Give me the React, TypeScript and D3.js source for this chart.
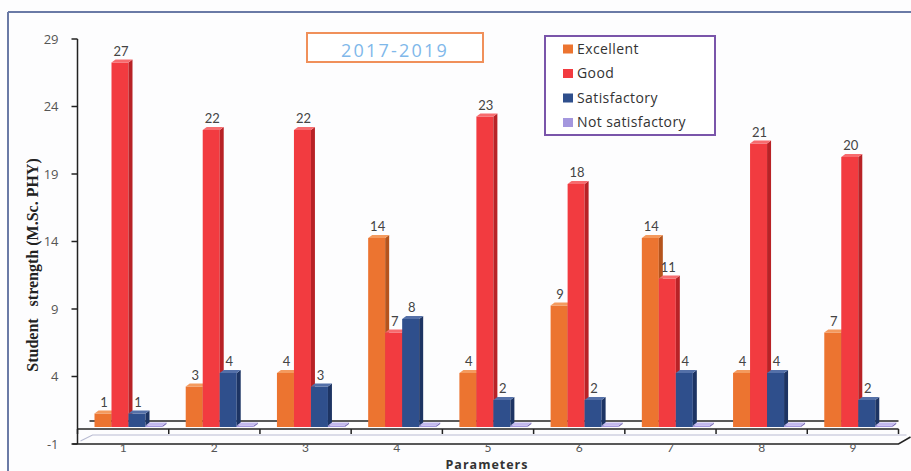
import React from "react";
import * as d3 from "d3";

const categories = ["1", "2", "3", "4", "5", "6", "7", "8", "9"];
const seriesNames = ["Excellent", "Good", "Satisfactory", "Not satisfactory"];
const excellent = [1, 3, 4, 14, 4, 9, 14, 4, 7];
const good = [27, 22, 22, 7, 23, 18, 11, 21, 20];
const satisfactory = [1, 4, 3, 8, 2, 2, 4, 4, 2];
const notSatisfactory = [0, 0, 0, 0, 0, 0, 0, 0, 0];
const yTicks = [-1, 4, 9, 14, 19, 24, 29];
const titleText = "2017-2019";

const seriesValues = [excellent, good, satisfactory, notSatisfactory];
const frontColors = ["#EC7430", "#F23B40", "#2F4F8C", "#A497DE"];
const sideColors = ["#B5541C", "#B82226", "#1D3463", "#7A6DB5"];
const topColors = ["#F49A5E", "#F76B6E", "#5470A8", "#C3B9EE"];

const W = 911;
const H = 471;

export default function App() {
  const y = d3.scaleLinear().domain([-1, 29]).range([444, 39]);
  const x0 = d3.scaleBand<string>().domain(categories).range([77.5, 898.5]).padding(0);
  const x1 = d3.scaleBand<string>().domain(seriesNames).range([17, 85]).padding(0);
  const bw = x1.bandwidth();
  const dx = 4;
  const dy = -3;
  const lift = -3.5; // 3D depth shift of the back plane
  const base = y(0) + lift;
  const sansFont = "Lato, 'Open Sans', sans-serif";
  const wideFont = "'Open Sans', Lato, sans-serif";

  const bars: React.ReactNode[] = [];
  const labels: React.ReactNode[] = [];
  categories.forEach((c, ci) => {
    seriesNames.forEach((s, si) => {
      const v = seriesValues[si][ci];
      const xl = (x0(c) as number) + (x1(s) as number);
      const top = v === 0 ? base - 1.5 : y(v) + lift;
      const h = base - top;
      bars.push(
        <g key={`b-${ci}-${si}`}>
          <rect x={xl} y={top} width={bw} height={h} fill={frontColors[si]} />
          <polygon
            points={`${xl + bw},${top} ${xl + bw + dx},${top + dy} ${xl + bw + dx},${base + dy} ${xl + bw},${base}`}
            fill={sideColors[si]}
          />
          <polygon
            points={`${xl},${top} ${xl + dx},${top + dy} ${xl + bw + dx},${top + dy} ${xl + bw},${top}`}
            fill={topColors[si]}
          />
        </g>
      );
      if (v !== 0) {
        labels.push(
          <text
            key={`l-${ci}-${si}`}
            x={xl + bw / 2 + 1}
            y={top - 7}
            textAnchor="middle"
            fontSize={13}
            fill="#444"
            fontFamily={sansFont}
          >
            {v}
          </text>
        );
      }
    });
  });

  const xStart = x0.range()[0];
  const xEnd = x0.range()[1];
  const boundaries = categories.map((c) => x0(c) as number).concat([xEnd]);

  return (
    <svg
      width={W}
      height={H}
      style={{ position: "absolute", left: 0, top: 0, background: "#fff" }}
    >
      <rect x={0} y={0} width={W} height={H} fill="#fdfdfe" />
      {/* outer frame */}
      <line x1={8} y1={12} x2={W} y2={12} stroke="#6a7aa6" strokeWidth={2} />
      <line x1={8} y1={12} x2={8} y2={H} stroke="#6a7aa6" strokeWidth={2} />

      {/* back base line */}
      <line x1={xStart + 12} y1={base - 6} x2={xEnd} y2={base - 6} stroke="#222" strokeWidth={1.5} />

      {bars}

      {/* floor */}
      <line x1={xStart} y1={429} x2={xEnd} y2={429} stroke="#222" strokeWidth={1.5} />
      {boundaries.map((b, i) => (
        <line key={`t-${i}`} x1={b} y1={429} x2={b} y2={434} stroke="#222" strokeWidth={1.5} />
      ))}
      <polyline
        points={`${xStart + 3},441 ${xStart + 15},435 ${xEnd + 8},435`}
        fill="none"
        stroke="#b9bcd2"
        strokeWidth={1.2}
      />
      <polyline
        points={`${xStart - 5},444 ${xEnd},444 ${xEnd + 12},437`}
        fill="none"
        stroke="#222"
        strokeWidth={1.5}
      />

      {/* y axis */}
      <line x1={xStart} y1={y(29)} x2={xStart} y2={y(-1)} stroke="#222" strokeWidth={1.5} />
      {yTicks.map((t) => (
        <g key={`yt-${t}`}>
          <line x1={xStart - 6} y1={y(t)} x2={xStart} y2={y(t)} stroke="#222" strokeWidth={1.5} />
          <text
            x={xStart - 19}
            y={y(t)}
            dy="0.35em"
            textAnchor="end"
            fontSize={13}
            fill="#555"
            fontFamily={wideFont}
          >
            {t}
          </text>
        </g>
      ))}

      {labels}

      {/* category labels */}
      {categories.map((c) => (
        <text
          key={`c-${c}`}
          x={(x0(c) as number) + x0.bandwidth() / 2}
          y={452}
          textAnchor="middle"
          fontSize={12}
          fill="#555"
          fontFamily={sansFont}
        >
          {c}
        </text>
      ))}

      {/* axis titles */}
      <text
        x={487}
        y={468.5}
        textAnchor="middle"
        fontSize={12.5}
        fontWeight="bold"
        letterSpacing={1}
        fill="#333"
        fontFamily={wideFont}
      >
        Parameters
      </text>
      <text
        transform={`translate(38,265) rotate(-90)`}
        textAnchor="middle"
        fontSize={16}
        fontWeight="bold"
        fill="#222"
        fontFamily="'Liberation Serif', 'Times New Roman', serif"
        style={{ whiteSpace: "pre" }}
      >
        {"Student   strength (M.Sc. PHY)"}
      </text>

      {/* title box */}
      <rect x={307} y={33} width={176} height={29} fill="#fff" stroke="#F0905A" strokeWidth={2} />
      <text
        x={395}
        y={57}
        textAnchor="middle"
        fontSize={18}
        letterSpacing={2.2}
        fill="#7FB8EA"
        fontFamily={wideFont}
      >
        {titleText}
      </text>

      {/* legend */}
      <rect x={545} y={36} width={170} height={99} fill="#fff" stroke="#7A55AA" strokeWidth={2} />
      {seriesNames.map((s, i) => (
        <g key={`lg-${s}`} transform={`translate(563,${49 + i * 24.5})`}>
          <rect x={0} y={-4.5} width={10} height={9} fill={frontColors[i]} />
          <text
            x={14}
            y={0}
            dy="0.35em"
            fontSize={14}
            letterSpacing={0.4}
            fill="#333"
            fontFamily={wideFont}
          >
            {s}
          </text>
        </g>
      ))}
    </svg>
  );
}
